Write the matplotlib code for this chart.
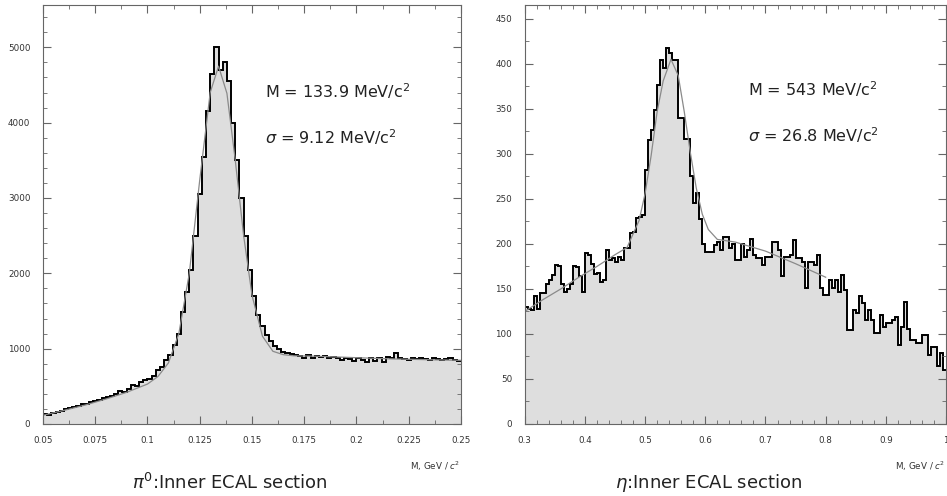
import numpy as np
import matplotlib
matplotlib.use("Agg")
import matplotlib.pyplot as plt
from matplotlib.ticker import MultipleLocator, AutoMinorLocator

# pi0 histogram, 100 bins of 2 MeV from 0.05 to 0.25 GeV
pi0_lo = 0.05
pi0_width = 0.002
pi0_counts = [
    130, 120, 150, 160, 175, 195, 210, 225, 240, 260,
    270, 290, 305, 320, 345, 360, 375, 395, 440, 430,
    470, 520, 510, 560, 580, 600, 640, 720, 760, 850,
    920, 1050, 1200, 1480, 1750, 2050, 2500, 3050, 3550, 4150,
    4650, 5000, 4700, 4800, 4550, 4000, 3500, 3000, 2500, 2050,
    1700, 1450, 1300, 1180, 1100, 1040, 990, 960, 940, 930,
    910, 900, 880, 910, 870, 900, 890, 900, 870, 890,
    880, 850, 870, 860, 830, 880, 850, 820, 880, 830,
    880, 820, 890, 880, 940, 870, 860, 850, 870, 860,
    880, 860, 850, 870, 860, 850, 860, 870, 850, 840,
]
# fit curve
pi0_fit_x = [0.05, 0.06, 0.07, 0.08, 0.09, 0.10, 0.105, 0.11, 0.115, 0.12,
             0.125, 0.13, 0.134, 0.138, 0.142, 0.146, 0.15, 0.155, 0.16, 0.165,
             0.17, 0.18, 0.19, 0.20, 0.21, 0.22, 0.23, 0.24, 0.25]
pi0_fit_y = [115, 180, 250, 330, 420, 530, 630, 810, 1200, 2000,
             3240, 4400, 4750, 4390, 3500, 2500, 1710, 1165, 965, 920,
             905, 900, 890, 880, 870, 862, 856, 850, 845]

# eta histogram, 140 bins of 5 MeV from 0.3 to 1.0 GeV
eta_lo = 0.3
eta_width = 0.005
eta_counts = [
    130, 128, 127, 142, 128, 145, 146, 156, 160, 165,
    177, 176, 155, 147, 150, 156, 175, 174, 164, 147,
    190, 188, 178, 167, 168, 158, 160, 193, 182, 184,
    180, 185, 182, 195, 196, 212, 213, 229, 230, 232,
    282, 315, 327, 349, 377, 404, 395, 418, 412, 404,
    404, 340, 340, 317, 317, 275, 245, 256, 228, 200,
    191, 191, 191, 199, 202, 193, 208, 208, 196, 200,
    182, 182, 200, 186, 193, 206, 188, 184, 184, 177,
    186, 186, 202, 202, 193, 164, 186, 186, 188, 204,
    184, 184, 180, 151, 180, 180, 177, 188, 151, 143,
    143, 160, 151, 160, 147, 166, 149, 104, 104, 127,
    123, 142, 134, 115, 127, 115, 101, 101, 121, 108,
    112, 112, 115, 119, 88, 108, 136, 106, 93, 93,
    90, 90, 99, 99, 77, 86, 86, 64, 79, 60,
]
eta_fit_x = [0.30, 0.33, 0.36, 0.39, 0.42, 0.45, 0.47, 0.49, 0.50, 0.51,
             0.52, 0.53, 0.543, 0.555, 0.565, 0.575, 0.585, 0.595, 0.605, 0.62,
             0.65, 0.70, 0.75, 0.80]
eta_fit_y = [125, 138, 150, 163, 175, 188, 196, 226, 256, 298,
             347, 381, 405, 387, 347, 302, 262, 233, 216, 205,
             202, 192, 178, 163]

pi0_ticks = [0.05, 0.075, 0.1, 0.125, 0.15, 0.175, 0.2, 0.225, 0.25]
pi0_ticklabels = ["0.05", "0.075", "0.1", "0.125", "0.15", "0.175", "0.2", "0.225", "0.25"]
eta_ticks = [0.3, 0.4, 0.5, 0.6, 0.7, 0.8, 0.9, 1.0]
eta_ticklabels = ["0.3", "0.4", "0.5", "0.6", "0.7", "0.8", "0.9", "1"]

fill_col = "#dedede"
frame_col = "#666666"

fig = plt.figure(figsize=(9.47, 4.96), dpi=100)
ax1 = fig.add_axes([0.0454, 0.1452, 0.4414, 0.845])
ax2 = fig.add_axes([0.5541, 0.1452, 0.4449, 0.845])


def draw_hist(ax, lo, width, counts, fit_x, fit_y):
    edges = lo + width * np.arange(len(counts) + 1)
    ax.stairs(counts, edges, fill=True, color=fill_col, lw=0)
    ax.stairs(counts, edges, color="black", lw=1.4, baseline=None)
    ax.plot(fit_x, fit_y, color="#8a8a8a", lw=0.9)
    for s in ax.spines.values():
        s.set_color(frame_col)
        s.set_linewidth(0.8)
    ax.tick_params(which="both", direction="in", top=True, right=True,
                   colors=frame_col, labelcolor="#333333", labelsize=6.3)
    ax.tick_params(which="major", length=6, width=0.8, pad=9)
    ax.tick_params(which="minor", length=3, width=0.6)


# left: pi0
draw_hist(ax1, pi0_lo, pi0_width, pi0_counts, pi0_fit_x, pi0_fit_y)
ax1.set_xlim(0.05, 0.25)
ax1.set_ylim(0, 5564)
ax1.set_xticks(pi0_ticks)
ax1.set_xticklabels(pi0_ticklabels)
ax1.xaxis.set_minor_locator(AutoMinorLocator(2))
ax1.yaxis.set_major_locator(MultipleLocator(1000))
ax1.yaxis.set_minor_locator(MultipleLocator(200))
ax1.text(0.53, 0.795, r"M = 133.9 MeV/c$^2$", transform=ax1.transAxes,
         fontsize=11.5, color="#222222", va="center")
ax1.text(0.53, 0.685, r"$\sigma$ = 9.12 MeV/c$^2$", transform=ax1.transAxes,
         fontsize=11.5, color="#222222", va="center")

# right: eta
draw_hist(ax2, eta_lo, eta_width, eta_counts, eta_fit_x, eta_fit_y)
ax2.set_xlim(0.3, 1.0)
ax2.set_ylim(0, 465.5)
ax2.set_xticks(eta_ticks)
ax2.set_xticklabels(eta_ticklabels)
ax2.xaxis.set_minor_locator(AutoMinorLocator(5))
ax2.yaxis.set_major_locator(MultipleLocator(50))
ax2.yaxis.set_minor_locator(MultipleLocator(25))
ax2.text(0.53, 0.80, r"M = 543 MeV/c$^2$", transform=ax2.transAxes,
         fontsize=11.5, color="#222222", va="center")
ax2.text(0.53, 0.69, r"$\sigma$ = 26.8 MeV/c$^2$", transform=ax2.transAxes,
         fontsize=11.5, color="#222222", va="center")

# axis labels and captions
fig.text(0.486, 0.052, r"M, GeV / $c^2$", fontsize=6.3, ha="right", color="#333333")
fig.text(0.998, 0.052, r"M, GeV / $c^2$", fontsize=6.3, ha="right", color="#333333")
fig.text(0.243, 0.026, r"$\pi^0$:Inner ECAL section", fontsize=13, ha="center",
         va="center", color="#222222")
fig.text(0.748, 0.026, r"$\eta$:Inner ECAL section", fontsize=13, ha="center",
         va="center", color="#222222")

fig.savefig("out.png", dpi=100)
